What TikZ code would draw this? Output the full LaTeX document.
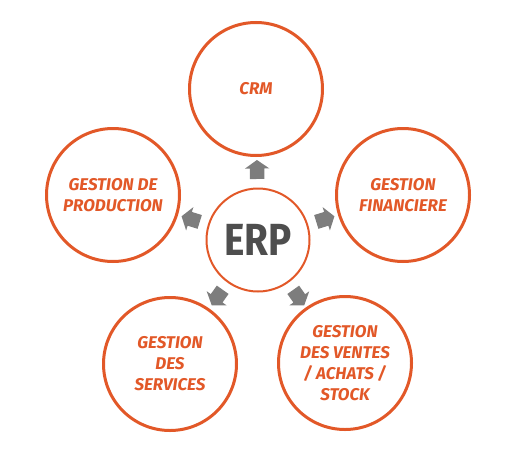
\documentclass[tikz,border=0pt]{standalone}
\usepackage{fontspec}
\setmainfont{Fira Sans}
\newfontfamily\hubfont{Fira Sans}[FakeStretch=0.86]
\usetikzlibrary{calc,shapes.arrows}

\definecolor{erporange}{RGB}{226,88,40}
\definecolor{erpgray}{RGB}{125,125,125}
\definecolor{erptext}{RGB}{78,78,78}

\tikzset{
  module_pt/.style={circle, draw=erporange, line width=3pt, minimum size=133pt, inner sep=0pt,
    align=center, text=erporange, font=\fontsize{17}{21}\selectfont\bfseries\itshape},
  hub_pt/.style={circle, draw=erporange, line width=2pt, minimum size=103pt, inner sep=0pt,
    text=erptext, font=\hubfont\fontsize{45}{45}\selectfont\bfseries},
  link_pt/.style={single arrow, fill=erpgray, draw=none, inner xsep=0pt, inner ysep=7pt,
    minimum height=19pt, single arrow head extend=5pt, single arrow tip angle=110},
}

\begin{document}
\begin{tikzpicture}[
  x=1pt, y=-1pt,
  every node/.style={anchor=center},
  ]

  \useasboundingbox (0,0) rectangle (516,455);

  \node[hub_pt] (erp) at (258,240) {ERP};

  \node[module_pt] (crm)   at (256,89)  {CRM};
  \node[module_pt] (fin)   at (403,195) {GESTION\\FINANCIERE};
  \node[module_pt] (vente) at (345,363) {GESTION\\DES VENTES\\/ ACHATS /\\STOCK};
  \node[module_pt] (serv)  at (170,364) {GESTION\\DES\\SERVICES};
  \node[module_pt] (prod)  at (113,195) {GESTION DE\\PRODUCTION};

  \foreach \m in {crm,fin,vente,serv,prod}{
    \path let \p1=($(\m)-(erp)$), \n1={atan2(\y1,\x1)} in
      node[link_pt, rotate=\n1] at ($(erp)!68pt!(\m)$) {};
  }

\end{tikzpicture}
\end{document}
